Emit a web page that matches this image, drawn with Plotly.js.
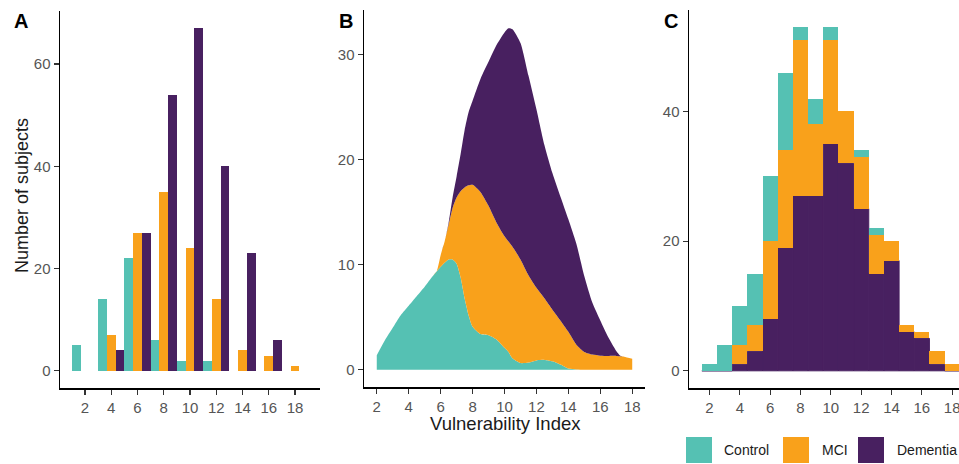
<!DOCTYPE html>
<html>
<head>
<meta charset="utf-8">
<script src="https://cdn.plot.ly/plotly-3.0.1.min.js"></script>
<style>html,body{margin:0;padding:0;background:#fff;}#chart{width:959px;height:464px;}</style>
</head>
<body>
<div id="chart"></div>
<script>
// ---- Panel A: counts per 2-unit bin ----
const binsA = [2, 4, 6, 8, 10, 12, 14, 16, 18];
const controlA = [5, 14, 22, 6, 2, 2, 0, 0, 0];
const mciA = [0, 7, 27, 35, 24, 14, 4, 3, 1];
const dementiaA = [0, 4, 27, 54, 67, 40, 23, 6, 0];

// ---- Panel B: stacked density (counts scale) ----
const xB = [2, 2.5, 3, 3.5, 4, 4.5, 5, 5.5, 5.75, 6, 6.25, 6.5, 6.75, 7, 7.25, 7.5, 7.75, 8, 8.5, 9, 9.5, 10, 10.25, 10.5, 11, 11.5, 12, 12.5, 13, 13.5, 14, 14.5, 15, 15.5, 16, 16.5, 17, 17.25, 17.5, 18];
const controlB = [1.4, 2.8, 4.0, 5.2, 6.1, 7.0, 7.9, 8.9, 9.35, 9.8, 10.2, 10.5, 10.5, 10.1, 8.8, 6.8, 5.2, 4.1, 3.4, 3.3, 2.9, 2.1, 1.7, 1.1, 0.65, 0.7, 0.9, 0.95, 0.82, 0.5, 0.12, 0.03, 0, 0, 0, 0, 0, 0, 0, 0];
const mciB = [0, 0, 0, 0, 0, 0, 0, 0, 0, 1.1, 2.0, 3.3, 4.9, 6.3, 8.2, 10.55, 12.35, 13.5, 13.5, 12.3, 11.1, 10.6, 10.5, 10.6, 9.85, 8.3, 6.9, 5.85, 4.9, 4.2, 3.5, 2.37, 1.7, 1.45, 1.35, 1.33, 1.33, 1.3, 1.25, 1.05];
const dementiaB = [0, 0, 0, 0, 0, 0, 0, 0, 0, 0, 0, 0.2, 1.0, 2.0, 3.5, 5.45, 6.95, 8.0, 10.8, 13.7, 16.9, 19.4, 20.3, 20.7, 20.6, 19.0, 17.0, 14.6, 13.0, 11.8, 10.7, 9.6, 7.2, 4.95, 3.35, 1.77, 0.47, 0.05, 0, 0];

// ---- Panel C: counts per 1-unit bin (stacked) ----
const binsC = [2, 3, 4, 5, 6, 7, 8, 9, 10, 11, 12, 13, 14, 15, 16, 17, 18];
const controlC = [1, 4, 6, 8, 10, 12, 2, 4, 2, 0, 1, 1, 0, 0, 0, 0, 0];
const mciC = [0, 0, 3, 4, 12, 15, 24, 11, 16, 8, 8, 6, 3, 1, 1, 2, 1];
const dementiaC = [0, 0, 1, 3, 8, 19, 27, 27, 35, 32, 25, 15, 17, 6, 5, 1, 0];

const groups = ['Control', 'MCI', 'Dementia'];
const tickValsX = [2, 4, 6, 8, 10, 12, 14, 16, 18];

const COL = {Control: '#55C1B3', MCI: '#F9A11B', Dementia: '#482060'};
const FONT = '"Liberation Sans", Arial, sans-serif';

const mciBaseC = dementiaC.slice();
const controlBaseC = dementiaC.map((d, i) => d + mciC[i]);

const traces = [
  // Panel A (dodged bars)
  {type: 'bar', x: binsA, y: controlA, offset: -1, width: 2/3, marker: {color: COL.Control}, xaxis: 'x', yaxis: 'y', showlegend: false},
  {type: 'bar', x: binsA, y: mciA, offset: -1/3, width: 2/3, marker: {color: COL.MCI}, xaxis: 'x', yaxis: 'y', showlegend: false},
  {type: 'bar', x: binsA, y: dementiaA, offset: 1/3, width: 2/3, marker: {color: COL.Dementia}, xaxis: 'x', yaxis: 'y', showlegend: false},
  // Panel B (stacked densities)
  {type: 'scatter', mode: 'lines', x: xB, y: controlB, stackgroup: 'b', line: {color: COL.Control, width: 0, shape: 'spline', smoothing: 0.6}, fillcolor: COL.Control, xaxis: 'x2', yaxis: 'y2', showlegend: false},
  {type: 'scatter', mode: 'lines', x: xB, y: mciB, stackgroup: 'b', line: {color: COL.MCI, width: 0, shape: 'spline', smoothing: 0.6}, fillcolor: COL.MCI, xaxis: 'x2', yaxis: 'y2', showlegend: false},
  {type: 'scatter', mode: 'lines', x: xB, y: dementiaB, stackgroup: 'b', line: {color: COL.Dementia, width: 0, shape: 'spline', smoothing: 0.6}, fillcolor: COL.Dementia, xaxis: 'x2', yaxis: 'y2', showlegend: false},
  // Panel C (stacked histogram)
  {type: 'bar', x: binsC, y: dementiaC, width: 1, marker: {color: COL.Dementia, line: {color: COL.Dementia, width: 1}}, xaxis: 'x3', yaxis: 'y3', showlegend: false},
  {type: 'bar', x: binsC, y: mciC, base: mciBaseC, width: 1, marker: {color: COL.MCI}, xaxis: 'x3', yaxis: 'y3', showlegend: false},
  {type: 'bar', x: binsC, y: controlC, base: controlBaseC, width: 1, marker: {color: COL.Control}, xaxis: 'x3', yaxis: 'y3', showlegend: false}
];

const W = 959, H = 464;
const px = v => v / W;
const py = v => 1 - v / H;

const TICKFONT = {family: FONT, size: 15, color: '#555555'};

function xAx(domain, range, anchor) {
  return {domain: domain, range: range, anchor: anchor, tickvals: tickValsX, ticktext: tickValsX.map(String),
    showline: true, linecolor: '#000', linewidth: 1.5, ticks: 'outside', ticklen: 5, tickwidth: 1.2, tickcolor: '#333',
    tickfont: TICKFONT, ticklabeloverflow: 'allow', showgrid: false, zeroline: false, fixedrange: true};
}
function yAx(domain, range, anchor, tv) {
  return {domain: domain, range: range, anchor: anchor, tickvals: tv, ticktext: tv.map(String),
    showline: true, linecolor: '#000', linewidth: 1.5, ticks: 'outside', ticklen: 5, tickwidth: 1.2, tickcolor: '#333',
    tickfont: TICKFONT, ticklabeloverflow: 'allow', showgrid: false, zeroline: false, fixedrange: true};
}

function note(text, x, y, size, extra) {
  return Object.assign({text: text, x: px(x), y: py(y), xref: 'paper', yref: 'paper', xanchor: 'center', yanchor: 'middle',
    showarrow: false, font: {family: FONT, size: size, color: '#1a1a1a'}}, extra || {});
}

const annotations = [
  note('<b>A</b>', 20.5, 21.5, 20, {font: {family: FONT, size: 20, color: '#000'}}),
  note('<b>B</b>', 345.5, 21.5, 20, {font: {family: FONT, size: 20, color: '#000'}}),
  note('<b>C</b>', 670.5, 21.5, 20, {font: {family: FONT, size: 20, color: '#000'}}),
  note('Number of subjects', 22, 196, 18, {textangle: -90}),
  note('Vulnerability Index', 505, 423, 18.5)
];

const legendItems = [
  {name: groups[0], sq: 686, tx: 722},
  {name: groups[1], sq: 783, tx: 820},
  {name: groups[2], sq: 858, tx: 895}
];
const shapes = [];
legendItems.forEach(it => {
  shapes.push({type: 'rect', xref: 'paper', yref: 'paper', x0: px(it.sq), x1: px(it.sq + 26), y0: py(463), y1: py(437), fillcolor: COL[it.name], line: {width: 0}});
  annotations.push(note(it.name, it.tx, 450, 14, {xanchor: 'left'}));
});

const layout = {
  width: W, height: H,
  margin: {l: 0, r: 0, t: 0, b: 0, pad: 0},
  paper_bgcolor: '#fff', plot_bgcolor: '#fff',
  barmode: 'overlay', bargap: 0,
  showlegend: false,
  font: {family: FONT},
  xaxis: xAx([px(60), px(320)], [0.1, 19.9], 'y'),
  yaxis: yAx([py(388), py(11)], [-3.35, 70.35], 'x', [0, 20, 40, 60]),
  xaxis2: xAx([px(364), px(645)], [1.2, 18.8], 'y2'),
  yaxis2: yAx([py(387), py(10)], [-1.63, 34.23], 'x2', [0, 10, 20, 30]),
  xaxis3: xAx([px(689), 1], [0.65, 18.45], 'y3'),
  yaxis3: yAx([py(388), py(10)], [-2.65, 55.65], 'x3', [0, 20, 40]),
  annotations: annotations,
  shapes: shapes
};

Plotly.newPlot('chart', traces, layout, {staticPlot: true, displayModeBar: false});
</script>
</body>
</html>
